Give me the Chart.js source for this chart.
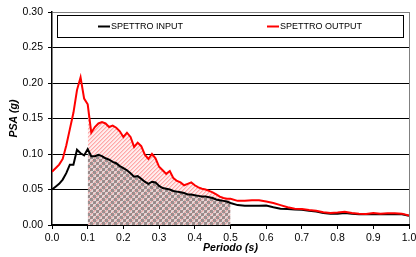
<!DOCTYPE html>
<html>
<head>
<meta charset="utf-8">
<script src="https://cdn.jsdelivr.net/npm/chart.js@4.4.0/dist/chart.umd.min.js"></script>
<style>
html,body{margin:0;padding:0;background:#fff;}
#wrap{width:416px;height:257px;position:relative;}
</style>
</head>
<body>
<div id="wrap"><canvas id="c" width="416" height="257"></canvas></div>
<script>
// ---- data ----
const periods = [
  0.00,0.01,0.02,0.03,0.04,0.05,0.06,0.07,0.08,0.09,
  0.10,0.11,0.12,0.13,0.14,0.15,0.16,0.17,0.18,0.19,
  0.20,0.21,0.22,0.23,0.24,0.25,0.26,0.27,0.28,0.29,
  0.30,0.31,0.32,0.33,0.34,0.35,0.36,0.37,0.38,0.39,
  0.40,0.41,0.42,0.43,0.44,0.45,0.46,0.47,0.48,0.49,0.50,
  0.52,0.54,0.56,0.58,0.60,0.62,0.64,0.66,0.68,0.70,
  0.72,0.74,0.76,0.78,0.80,0.82,0.84,0.86,0.88,0.90,
  0.92,0.94,0.96,0.98,1.00
];
const spettroInput = [
  0.050,0.054,0.058,0.064,0.073,0.085,0.085,0.106,0.101,0.098,
  0.107,0.097,0.097,0.099,0.097,0.094,0.092,0.089,0.087,0.083,
  0.080,0.077,0.073,0.068,0.069,0.065,0.061,0.058,0.061,0.060,
  0.055,0.052,0.051,0.050,0.048,0.047,0.046,0.045,0.043,0.043,
  0.042,0.041,0.040,0.040,0.039,0.038,0.036,0.035,0.034,0.033,0.031,
  0.028,0.027,0.027,0.027,0.0275,0.025,0.023,0.0225,0.022,0.0215,
  0.020,0.019,0.017,0.016,0.016,0.017,0.016,0.015,0.015,0.0155,
  0.015,0.015,0.0155,0.015,0.013
];
const spettroOutput = [
  0.075,0.080,0.085,0.093,0.112,0.135,0.158,0.190,0.208,0.178,
  0.170,0.130,0.138,0.143,0.145,0.143,0.138,0.140,0.137,0.132,
  0.124,0.130,0.124,0.110,0.116,0.111,0.099,0.093,0.100,0.094,
  0.082,0.077,0.072,0.076,0.066,0.062,0.060,0.056,0.058,0.060,
  0.056,0.053,0.051,0.050,0.048,0.046,0.043,0.040,0.038,0.037,0.037,
  0.034,0.034,0.035,0.035,0.033,0.031,0.028,0.025,0.023,0.0225,
  0.021,0.020,0.018,0.017,0.0175,0.0185,0.017,0.016,0.0155,0.017,
  0.016,0.0165,0.0165,0.016,0.0135
];
const seriesLabels = ['SPETTRO INPUT', 'SPETTRO OUTPUT'];
const shadeRange = [0.10, 0.50];
const xAxisTitle = 'Periodo (s)';
const yAxisTitle = 'PSA (g)';

// ---- helpers ----
const pts = (ys) => periods.map((t, i) => ({x: t, y: ys[i]}));
const shaded = (ys) => periods
  .map((t, i) => ({x: t, y: ys[i]}))
  .filter(p => p.x >= shadeRange[0] - 1e-9 && p.x <= shadeRange[1] + 1e-9);

function makePattern(draw, size) {
  const c = document.createElement('canvas');
  c.width = size; c.height = size;
  const g = c.getContext('2d');
  draw(g);
  return document.getElementById('c').getContext('2d').createPattern(c, 'repeat');
}
const hatchRed = makePattern(g => {
  g.fillStyle = '#ffeded'; g.fillRect(0, 0, 4, 4);
  g.fillStyle = '#ffa8a8';
  for (let i = 0; i < 4; i++) { g.fillRect(i, (4 - i) % 4, 1, 1); }
  g.fillStyle = '#ffcccc';
  for (let i = 0; i < 4; i++) { g.fillRect(i, (5 - i) % 4, 1, 1); }
}, 4);
const checkerGray = makePattern(g => {
  g.clearRect(0, 0, 6, 6);
  g.fillStyle = 'rgba(115,115,115,0.72)';
  g.fillRect(0, 0, 3, 3); g.fillRect(3, 3, 3, 3);
  g.fillStyle = 'rgba(150,150,150,0.25)';
  g.fillRect(3, 0, 3, 3); g.fillRect(0, 3, 3, 3);
}, 6);

const FONT = "'Liberation Sans', Arial, sans-serif";

const boxLegend = {
  id: 'boxLegend',
  afterDatasetsDraw(chart) {
    const {ctx, chartArea: a} = chart;
    const x0 = Math.round(a.left + 5), x1 = Math.round(a.right - 6);
    const y0 = Math.round(a.top + 3), y1 = Math.round(a.top + 25);
    ctx.save();
    ctx.fillStyle = '#fff';
    ctx.fillRect(x0, y0, x1 - x0, y1 - y0);
    ctx.strokeStyle = '#000';
    ctx.lineWidth = 1;
    ctx.strokeRect(x0 + 0.5, y0 + 0.5, x1 - x0, y1 - y0);
    const offs = [46, 215];
    const items = seriesLabels.map(l => chart.data.datasets.find(d => d.label === l));
    const yc = (y0 + y1) / 2 + 0.5;
    ctx.font = '9px ' + FONT;
    ctx.textBaseline = 'middle';
    items.forEach((d, i) => {
      const lx = a.left + offs[i];
      ctx.strokeStyle = d.borderColor;
      ctx.lineWidth = 2;
      ctx.beginPath(); ctx.moveTo(lx, yc); ctx.lineTo(lx + 12, yc); ctx.stroke();
      ctx.fillStyle = '#000';
      ctx.fillText(d.label, lx + 13, yc);
    });
    ctx.restore();
  }
};

new Chart(document.getElementById('c'), {
  type: 'line',
  data: {
    datasets: [
      {label: seriesLabels[1], data: pts(spettroOutput), borderColor: '#ff0000', borderWidth: 2,
       pointRadius: 0, fill: false, tension: 0, order: 0},
      {label: seriesLabels[0], data: pts(spettroInput), borderColor: '#000000', borderWidth: 2,
       pointRadius: 0, fill: false, tension: 0, order: 1},
      {label: 'inputArea', data: shaded(spettroInput), borderWidth: 0, borderColor: 'rgba(0,0,0,0)',
       backgroundColor: checkerGray, pointRadius: 0, fill: 'origin', tension: 0, order: 2},
      {label: 'outputArea', data: shaded(spettroOutput), borderWidth: 0, borderColor: 'rgba(0,0,0,0)',
       backgroundColor: hatchRed, pointRadius: 0, fill: 'origin', tension: 0, order: 3}
    ]
  },
  options: {
    responsive: false,
    animation: false,
    devicePixelRatio: 1,
    layout: {padding: {left: 0, right: 7, top: 12, bottom: 0}},
    plugins: {legend: {display: false}, tooltip: {enabled: false}},
    scales: {
      x: {
        type: 'linear', min: 0, max: 1,
        ticks: {stepSize: 0.1, color: '#000', font: {family: FONT, size: 10.5}, padding: 3,
                maxRotation: 0, callback: v => Number(v).toFixed(1)},
        grid: {drawOnChartArea: true, tickLength: 4, tickColor: '#000', lineWidth: 1,
               color: c => (c.tick && Math.abs(c.tick.value - 1) < 1e-6) ? '#808080' : 'rgba(0,0,0,0)'},
        border: {color: '#000', width: 2},
        title: {display: true, text: xAxisTitle, color: '#000',
                font: {family: FONT, size: 10.5, weight: 'bold', style: 'italic'}, padding: {top: 0, bottom: 3}},
        afterFit: s => { s.height = 32; s.paddingLeft = 0; s.paddingRight = 0; }
      },
      y: {
        min: 0, max: 0.3,
        ticks: {stepSize: 0.05, color: '#000', font: {family: FONT, size: 10.5}, padding: 5,
                callback: v => Number(v).toFixed(2)},
        grid: {tickLength: 4, tickColor: '#000', lineWidth: 1,
               color: c => (c.tick && Math.abs(c.tick.value - 0.3) < 1e-6) ? '#808080' : '#000000'},
        border: {color: '#000', width: 1.5},
        title: {display: true, text: yAxisTitle, color: '#000',
                font: {family: FONT, size: 10.5, weight: 'bold', style: 'italic'}, padding: {top: 8, bottom: 0}},
        afterFit: s => { s.width = 52; s.paddingTop = 0; s.paddingBottom = 0; }
      }
    }
  },
  plugins: [boxLegend]
});
</script>
</body>
</html>
